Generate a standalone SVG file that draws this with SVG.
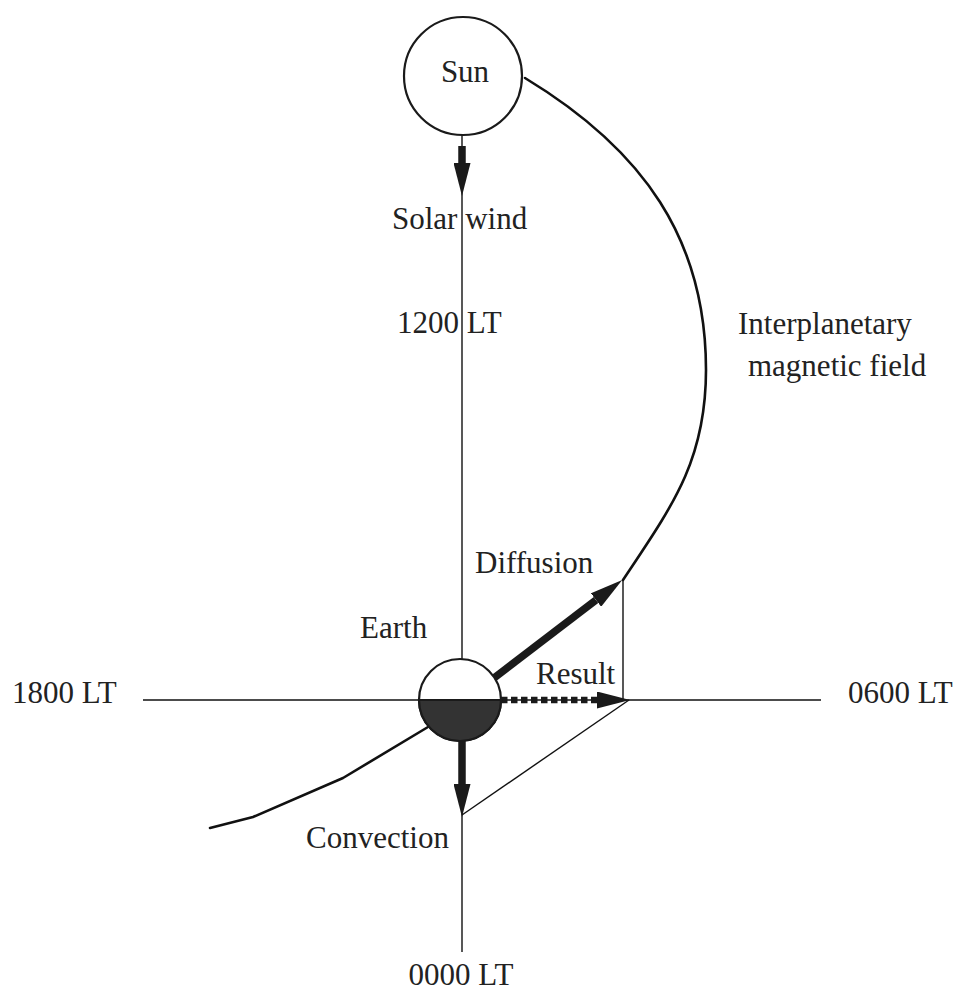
<svg xmlns="http://www.w3.org/2000/svg" width="965" height="994" viewBox="0 0 965 994">
<style>
text{font-family:"Liberation Serif","Times New Roman",serif;font-size:31px;fill:#222}
.thin{stroke:#111;stroke-width:1.4;fill:none}
.imf{stroke:#111;stroke-width:2.6;fill:none;stroke-linejoin:round;stroke-linecap:round}
.thick{stroke:#1a1a1a;stroke-width:7.5;fill:none}
.dash{stroke:#1a1a1a;stroke-width:6.5;fill:none;stroke-dasharray:6.5 3.5}
.body{stroke:#1a1a1a;stroke-width:2.2}
</style>
<defs>
<marker id="head" viewBox="0 -8.5 33 17" refX="0" refY="0" markerWidth="33" markerHeight="17" markerUnits="userSpaceOnUse" orient="auto">
<path d="M0,-8.5 L33,0 L0,8.5 z" fill="#1a1a1a"/>
</marker>
</defs>
<rect width="965" height="994" fill="#fff"/>
<g id="connectors">
<line class="thin" x1="462" y1="135" x2="462" y2="952"/>
<line class="thin" x1="143" y1="700" x2="821" y2="700"/>
<line class="thin" x1="623" y1="580" x2="623" y2="700"/>
<line class="thin" x1="629" y1="700" x2="462" y2="815"/>
<path class="imf" d="M525,78 C644,150 706,240 706,370 C706,460 673,505 623,580"/>
<path class="imf" d="M428,727 L343,778 L253,817 L210,828"/>
<line class="thick" x1="462" y1="146" x2="462" y2="163" marker-end="url(#head)"/>
<line class="thick" x1="462" y1="741" x2="462" y2="784" marker-end="url(#head)"/>
<line class="thick" x1="494" y1="678" x2="596" y2="600" marker-end="url(#head)"/>
<line class="dash" x1="501" y1="700" x2="597" y2="700" marker-end="url(#head)"/>
</g>
<g id="sun">
<circle class="body" cx="463" cy="76" r="59" fill="#fff"/>
<text x="465" y="82" text-anchor="middle">Sun</text>
</g>
<g id="earth">
<circle class="body" cx="460" cy="700" r="41" fill="#fff"/>
<path class="body" d="M419,700 A41,41 0 0 0 501,700 Z" fill="#333"/>
<text x="360" y="638">Earth</text>
</g>
<g id="labels">
<text x="392" y="229">Solar wind</text>
<text x="397" y="333">1200 LT</text>
<text x="738" y="334">Interplanetary</text>
<text x="748" y="376">magnetic field</text>
<text x="475" y="573">Diffusion</text>
<text x="536" y="684">Result</text>
<text x="12" y="703">1800 LT</text>
<text x="848" y="703">0600 LT</text>
<text x="306" y="848">Convection</text>
<text x="461" y="985" text-anchor="middle">0000 LT</text>
</g>
</svg>
